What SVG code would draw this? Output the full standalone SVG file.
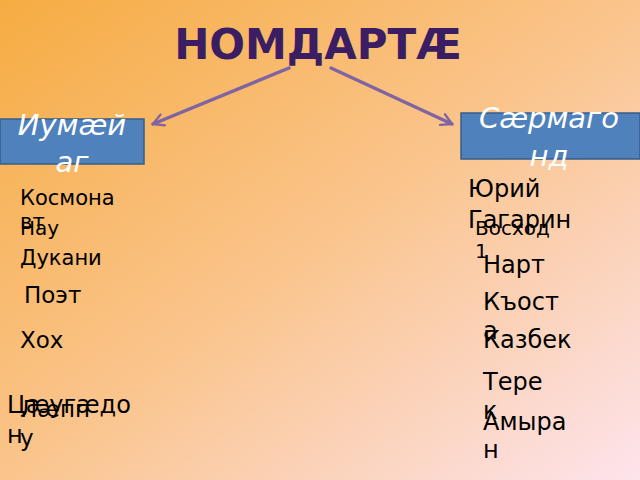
<svg xmlns="http://www.w3.org/2000/svg" width="640" height="480" viewBox="0 0 640 480">
<style>
.t{font-family:"DejaVu Sans","Noto Sans",sans-serif;fill:#000;}
.h{font-family:"DejaVu Sans","Noto Sans",sans-serif;font-style:italic;fill:#fff;font-size:29px;text-anchor:middle;}
.box{fill:#4F81BD;stroke:#385D8A;stroke-width:1.5;}
.con{stroke:#8064A2;stroke-width:3.5;fill:none;stroke-linecap:round;}
</style>
<defs>
<linearGradient id="bg" x1="0" y1="0" x2="1" y2="1">
<stop offset="0" stop-color="#F6AC42"/>
<stop offset="0.5" stop-color="#FAC48C"/>
<stop offset="1" stop-color="#FDE3EC"/>
</linearGradient>
<marker id="ah" viewBox="0 0 12 12" refX="10" refY="6" markerWidth="4" markerHeight="4" orient="auto" markerUnits="strokeWidth">
<path d="M1,1 L10,6 L1,11" fill="none" stroke="#8064A2" stroke-width="2" stroke-linecap="round" stroke-linejoin="round"/>
</marker>
</defs>
<rect width="640" height="480" fill="url(#bg)"/>
<g id="title">
<text x="318" y="59" text-anchor="middle" font-family="DejaVu Sans, sans-serif" font-weight="bold" font-size="42" fill="#3A1D62">НОМДАРТÆ</text>
</g>
<g id="connectors">
<line class="con" x1="289" y1="68" x2="153" y2="124" marker-end="url(#ah)"/>
<line class="con" x1="331" y1="68" x2="452" y2="124" marker-end="url(#ah)"/>
</g>
<g id="common">
<rect class="box" x="0" y="119" width="144" height="45"/>
<text class="h" x="72" y="135"><tspan x="72">Иумæй</tspan><tspan x="72" dy="37">аг</tspan></text>
</g>
<g id="proper">
<rect class="box" x="461" y="113" width="179" height="46"/>
<text class="h" x="549" y="128"><tspan x="549">Сæрмаго</tspan><tspan x="549" dy="38">нд</tspan></text>
</g>
<g id="item-kosmonavt"><text class="t" x="20" y="205" font-size="21"><tspan x="20">Космона</tspan><tspan x="20" dy="24">вт</tspan></text></g>
<g id="item-nau"><text class="t" x="20" y="235" font-size="20">Нау</text></g>
<g id="item-dukani"><text class="t" x="20" y="265" font-size="21">Дукани</text></g>
<g id="item-poet"><text class="t" x="24" y="303" font-size="23">Поэт</text></g>
<g id="item-khokh"><text class="t" x="20" y="348" font-size="23">Хох</text></g>
<g id="item-tsaeugaedon"><text class="t" x="7" y="413" font-size="24"><tspan x="7">Цæугæдо</tspan><tspan x="7" dy="30">н</tspan></text></g>
<g id="item-laeppu"><text class="t" x="20" y="417" font-size="23"><tspan x="20">Лæпп</tspan><tspan x="20" dy="29">у</tspan></text></g>
<g id="item-gagarin"><text class="t" x="468" y="197" font-size="24"><tspan x="468">Юрий</tspan><tspan x="468" dy="31">Гагарин</tspan></text></g>
<g id="item-voskhod"><text class="t" x="475" y="235" font-size="20"><tspan x="475">Восход</tspan><tspan x="475" dy="23">1</tspan></text></g>
<g id="item-nart"><text class="t" x="483" y="273" font-size="24">Нарт</text></g>
<g id="item-kosta"><text class="t" x="483" y="310" font-size="24"><tspan x="483">Къост</tspan><tspan x="483" dy="29">а</tspan></text></g>
<g id="item-kazbek"><text class="t" x="483" y="348" font-size="24">Казбек</text></g>
<g id="item-terek"><text class="t" x="483" y="390" font-size="24"><tspan x="483">Тере</tspan><tspan x="483" dy="29">к</tspan></text></g>
<g id="item-amyran"><text class="t" x="483" y="430" font-size="24"><tspan x="483">Амыра</tspan><tspan x="483" dy="28">н</tspan></text></g>
</svg>
